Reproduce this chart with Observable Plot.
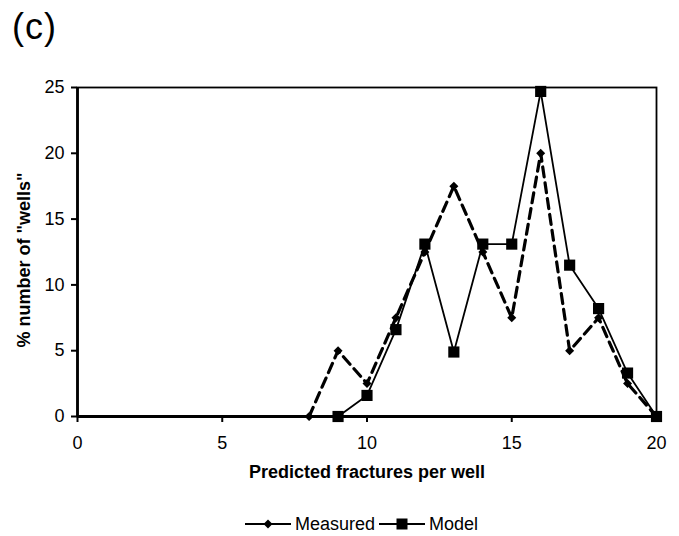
<!DOCTYPE html>
<html>
<head>
<meta charset="utf-8">
<script src="https://cdn.jsdelivr.net/npm/d3@7"></script>
<script src="https://cdn.jsdelivr.net/npm/@observablehq/plot@0.6"></script>
<style>
  html, body { margin: 0; padding: 0; background: white; }
  body { width: 679px; height: 536px; position: relative; overflow: hidden; font-family: "Liberation Sans", Arial, sans-serif; }
  #title { position: absolute; left: 12px; top: 9px; font-size: 36px; letter-spacing: 1px; line-height: 1; color: black; }
  #chart { position: absolute; left: 0; top: 62px; }
  #legend { position: absolute; left: 245px; top: 512px; display: flex; align-items: center; font-size: 18px; color: black; height: 24px; }
  #legend svg { display: block; }
</style>
</head>
<body>
<div id="title">(c)</div>
<div id="chart"></div>
<div id="legend"></div>
<script>
const fractures = [8, 9, 10, 11, 12, 13, 14, 15, 16, 17, 18, 19, 20];
const measured  = [0, 5, 2.5, 7.5, 12.5, 17.5, 12.5, 7.5, 20, 5, 7.5, 2.5, 0];
const modelX    = [9, 10, 11, 12, 13, 14, 15, 16, 17, 18, 19, 20];
const model     = [0, 1.6, 6.6, 13.1, 4.9, 13.1, 13.1, 24.7, 11.5, 8.2, 3.3, 0];
const xTicks = [0, 5, 10, 15, 20];
const yTicks = [0, 5, 10, 15, 20, 25];
const xLabel = "Predicted fractures per well";
const yLabel = "% number of \"wells\"";
const seriesNames = ["Measured", "Model"];

const measuredData = fractures.map((x, i) => ({x, y: measured[i]}));
const modelData = modelX.map((x, i) => ({x, y: model[i]}));

const chart = Plot.plot({
  width: 679,
  height: 440,
  marginTop: 25,
  marginBottom: 86,
  marginLeft: 77,
  marginRight: 23,
  style: {fontFamily: "'Liberation Sans', Arial, sans-serif", fontSize: "18px", color: "black", background: "white", overflow: "visible"},
  x: {domain: [0, 20]},
  y: {domain: [0, 25]},
  marks: [
    Plot.frame({stroke: "black", strokeWidth: 1.8}),
    Plot.axisX({ticks: xTicks, tickSize: 6, tickPadding: 14, strokeWidth: 2, label: null, fontSize: 18}),
    Plot.axisY({ticks: yTicks, tickSize: 6, tickPadding: 7, strokeWidth: 2, label: null, fontSize: 18}),
    Plot.ruleX([0], {stroke: "black", strokeWidth: 2.8}),
    Plot.ruleY([0], {stroke: "black", strokeWidth: 2.8}),
    Plot.line(measuredData, {x: "x", y: "y", stroke: "black", strokeWidth: 3.2, strokeDasharray: "10,6"}),
    Plot.dot(measuredData, {x: "x", y: "y", symbol: "square", r: 3.6, rotate: 45, fill: "black", stroke: "none"}),
    Plot.line(modelData, {x: "x", y: "y", stroke: "black", strokeWidth: 1.8}),
    Plot.dot(modelData, {x: "x", y: "y", symbol: "square", r: 6.3, fill: "black", stroke: "none"}),
    Plot.text([xLabel], {frameAnchor: "bottom", dy: 61, text: d => d, fontWeight: "bold", fontSize: 18, fill: "black"}),
    Plot.text([yLabel], {frameAnchor: "left", textAnchor: "middle", dx: -53, dy: 8, rotate: -90, text: d => d, fontWeight: "bold", fontSize: 18, fill: "black"})
  ]
});
document.getElementById("chart").appendChild(chart);

// Legend
const legend = document.getElementById("legend");
function swatch(kind) {
  const ns = "http://www.w3.org/2000/svg";
  const svg = document.createElementNS(ns, "svg");
  svg.setAttribute("width", 46);
  svg.setAttribute("height", 24);
  const line = document.createElementNS(ns, "line");
  line.setAttribute("x1", 0); line.setAttribute("x2", 46);
  line.setAttribute("y1", 12); line.setAttribute("y2", 12);
  line.setAttribute("stroke", "black"); line.setAttribute("stroke-width", 2);
  svg.appendChild(line);
  if (kind === "Measured") {
    const p = document.createElementNS(ns, "path");
    p.setAttribute("d", "M23,7.5L27.5,12L23,16.5L18.5,12Z");
    p.setAttribute("fill", "black");
    svg.appendChild(p);
  } else {
    const r = document.createElementNS(ns, "rect");
    r.setAttribute("x", 17.5); r.setAttribute("y", 6.5);
    r.setAttribute("width", 11); r.setAttribute("height", 11);
    r.setAttribute("fill", "black");
    svg.appendChild(r);
  }
  return svg;
}
seriesNames.forEach((name, i) => {
  legend.appendChild(swatch(name));
  const s = document.createElement("span");
  s.textContent = name;
  s.style.marginLeft = "4px";
  s.style.marginRight = i === 0 ? "4px" : "0";
  legend.appendChild(s);
});
</script>
</body>
</html>
